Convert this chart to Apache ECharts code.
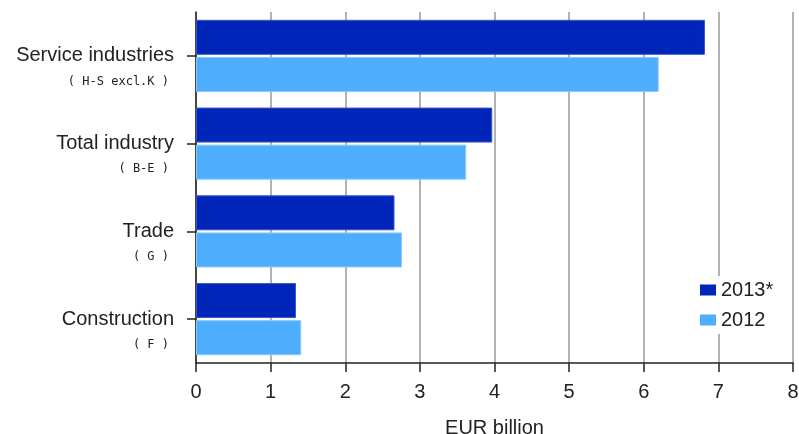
<!DOCTYPE html>
<html>
<head>
<meta charset="utf-8">
<script src="https://cdn.jsdelivr.net/npm/echarts@6/dist/echarts.min.js"></script>
<style>html,body{margin:0;padding:0;background:#fff}#c{width:799px;height:434px}</style>
</head>
<body>
<div id="c"></div>
<script>
var categories = ['Service industries', 'Total industry', 'Trade', 'Construction'];
var subLabels = ['( H-S excl.K )', '( B-E )', '( G )', '( F )'];
var values2013 = [6.82, 3.97, 2.66, 1.34];
var values2012 = [6.20, 3.62, 2.76, 1.41];
var xTicks = [0, 1, 2, 3, 4, 5, 6, 7, 8];

var font = 'Liberation Sans';
var chart = echarts.init(document.getElementById('c'));
chart.setOption({
  animation: false,
  textStyle: { fontFamily: font },
  grid: { left: 196, right: 6, top: 12, bottom: 71, containLabel: false, outerBoundsMode: 'none' },
  legend: {
    data: ['2013*', '2012'],
    orient: 'vertical',
    left: 694, top: 276,
    padding: [4, 6, 4, 6],
    backgroundColor: '#fff',
    itemWidth: 16, itemHeight: 11, itemGap: 10,
    icon: 'rect',
    itemStyle: { borderWidth: 0 },
    textStyle: { fontFamily: font, fontSize: 20, color: '#222' }
  },
  xAxis: {
    type: 'value', min: 0, max: 8, interval: 1,
    name: 'EUR billion', nameLocation: 'middle', nameGap: 55,
    nameTextStyle: { fontFamily: font, fontSize: 20, color: '#222' },
    axisLine: { show: true, lineStyle: { color: '#222', width: 1.5 } },
    axisTick: { show: true, length: 9, lineStyle: { color: '#222', width: 1.5 } },
    axisLabel: { fontSize: 20, color: '#222', margin: 19,
      formatter: function (v) { return xTicks.indexOf(v) >= 0 ? String(v) : ''; } },
    splitLine: { show: true, lineStyle: { color: '#999', width: 1.5 } }
  },
  yAxis: {
    type: 'category', inverse: true, data: categories,
    axisLine: { show: true, lineStyle: { color: '#222', width: 1.5 } },
    axisTick: { show: true, alignWithLabel: true, length: 9, lineStyle: { color: '#222', width: 1.5 } },
    axisLabel: {
      margin: 22, align: 'right',
      formatter: function (v, i) { return '{s| }\n{a|' + v + '}\n{b|' + subLabels[i] + '}'; },
      rich: {
        s: { fontSize: 12, lineHeight: 25 },
        a: { fontSize: 20, lineHeight: 26, color: '#222', fontFamily: font, align: 'right' },
        b: { fontSize: 12, lineHeight: 25, color: '#222', fontFamily: 'DejaVu Sans Mono', align: 'right', padding: [0, 5, 0, 0] }
      }
    }
  },
  series: [
    { name: '2013*', type: 'bar', data: values2013, barWidth: 35, barGap: '6%',
      itemStyle: { color: '#0026b9', borderColor: '#3a55cc', borderWidth: 1 } },
    { name: '2012', type: 'bar', data: values2012, barWidth: 35, barGap: '6%',
      itemStyle: { color: '#4fadfe', borderColor: '#86c8ff', borderWidth: 1 } }
  ]
});
</script>
</body>
</html>
